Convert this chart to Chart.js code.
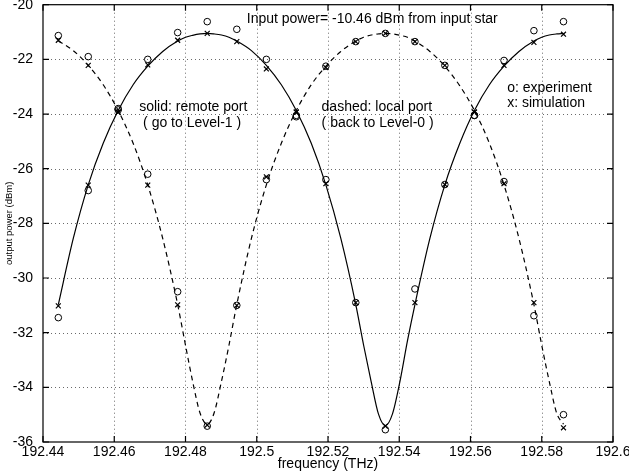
<!DOCTYPE html>
<html>
<head>
<meta charset="utf-8">
<script src="https://cdn.jsdelivr.net/npm/chart.js@4/dist/chart.umd.min.js"></script>
<style>
html,body{margin:0;padding:0;background:#fff;}
#c{display:block;}
</style>
</head>
<body>
<canvas id="c" width="629" height="474"></canvas>
<script>
// ---- axis ticks ----
const xTickValues = [192.44, 192.46, 192.48, 192.5, 192.52, 192.54, 192.56, 192.58, 192.6];
const xTickLabels = ['192.44', '192.46', '192.48', '192.5', '192.52', '192.54', '192.56', '192.58', '192.6'];
const yTickValues = [-36, -34, -32, -30, -28, -26, -24, -22, -20];
const yTickLabels = ['-36', '-34', '-32', '-30', '-28', '-26', '-24', '-22', '-20'];

// ---- measured points (THz) ----
const markerFreq = [192.4443, 192.4527, 192.4611, 192.4694, 192.4778, 192.4861, 192.4944, 192.5027, 192.5111,
                    192.5194, 192.5278, 192.5361, 192.5444, 192.5528, 192.5611, 192.5694, 192.5778, 192.5861];
// solid: remote port
const remoteSim = [-31.02, -26.60, -23.93, -22.20, -21.30, -21.05, -21.35, -22.35, -23.93,
                   -26.55, -30.90, -35.42, -30.90, -26.58, -23.93, -22.22, -21.38, -21.08];
const remoteExp = [-31.45, -26.80, -23.80, -22.00, -21.02, -20.62, -20.90, -22.00, -24.10,
                   -26.40, -30.90, -35.55, -30.40, -26.58, -24.05, -22.04, -20.95, -20.62];
// dashed: local port
const localSim = [-21.30, -22.22, -23.93, -26.60, -30.98, -35.38, -31.00, -26.30, -23.93,
                  -22.30, -21.35, -21.05, -21.35, -22.22, -23.93, -26.55, -30.90, -35.48];
const localExp = [-21.13, -21.90, -23.85, -26.20, -30.50, -35.42, -31.00, -26.40, -24.05,
                  -22.25, -21.35, -21.05, -21.35, -22.22, -24.05, -26.47, -31.38, -35.00];

// ---- simulation curves ----
const curveFreq = [192.4443, 192.4485, 192.4527, 192.4569, 192.4611, 192.4653, 192.4694, 192.4736, 192.4778,
                   192.4800, 192.4820, 192.4841, 192.4861, 192.4880, 192.4901, 192.4922, 192.4944, 192.4985,
                   192.5027, 192.5069, 192.5111, 192.5153, 192.5194, 192.5236, 192.5278, 192.5300, 192.5321,
                   192.5342, 192.5361, 192.5381, 192.5402, 192.5423, 192.5444, 192.5486, 192.5528, 192.5570,
                   192.5611, 192.5653, 192.5694, 192.5736, 192.5778, 192.5800, 192.5821, 192.5842, 192.5861];
const remoteCurve = [-30.97, -28.55, -26.59, -25.07, -23.87, -22.93, -22.25, -21.71, -21.33,
                     -21.19, -21.12, -21.07, -21.05, -21.07, -21.11, -21.19, -21.33, -21.68,
                     -22.22, -22.93, -23.87, -25.07, -26.59, -28.55, -30.97, -32.46, -33.78,
                     -34.99, -35.40, -34.97, -33.78, -32.30, -30.97, -28.55, -26.59, -25.07,
                     -23.87, -22.93, -22.25, -21.71, -21.33, -21.19, -21.11, -21.07, -21.05];
const localCurve = [-21.32, -21.68, -22.22, -22.93, -23.87, -25.07, -26.59, -28.55, -30.97,
                    -32.46, -33.78, -34.95, -35.35, -34.95, -33.78, -32.46, -30.97, -28.55,
                    -26.59, -25.07, -23.87, -22.93, -22.25, -21.71, -21.33, -21.19, -21.11,
                    -21.07, -21.05, -21.07, -21.12, -21.19, -21.33, -21.71, -22.25, -22.97,
                    -23.87, -25.07, -26.59, -28.55, -30.97, -32.46, -33.78, -34.95, -35.35];

// ---- text notes inside the plot (data coordinates) ----
const noteTexts = ['Input power= -10.46 dBm from input star', 'solid: remote port', '( go to Level-1 )',
                   'dashed: local port', '( back to Level-0 )', 'o: experiment', 'x: simulation'];
const noteX = [192.4972, 192.4670, 192.4681, 192.5182, 192.5182, 192.5703, 192.5703];
const noteY = [-20.52, -23.75, -24.33, -23.75, -24.33, -23.06, -23.60];

const FONT = '"Liberation Sans", Arial, Helvetica, sans-serif';
const pts = (xs, ys) => xs.map((v, i) => ({x: v, y: ys[i]}));

const framePlugin = {
  id: 'frame',
  beforeDatasetsDraw(chart) {
    const {ctx, chartArea: a, scales: {x, y}} = chart;
    ctx.save();
    ctx.strokeStyle = '#6a6a6a';
    ctx.lineWidth = 1;
    ctx.setLineDash([1, 3]);
    ctx.beginPath();
    xTickValues.slice(1, -1).forEach(v => {
      const p = Math.round(x.getPixelForValue(v)) + 0.5;
      ctx.moveTo(p, a.top); ctx.lineTo(p, a.bottom);
    });
    yTickValues.slice(1, -1).forEach(v => {
      const p = Math.round(y.getPixelForValue(v)) + 0.5;
      ctx.moveTo(a.left, p); ctx.lineTo(a.right, p);
    });
    ctx.stroke();
    ctx.restore();
  },
  afterDraw(chart) {
    const {ctx, chartArea: a, scales: {x, y}} = chart;
    ctx.save();
    ctx.strokeStyle = '#000';
    ctx.lineWidth = 1.2;
    ctx.strokeRect(a.left, a.top, a.right - a.left, a.bottom - a.top);
    ctx.beginPath();
    xTickValues.forEach(v => {
      const p = x.getPixelForValue(v);
      ctx.moveTo(p, a.bottom); ctx.lineTo(p, a.bottom - 6);
      ctx.moveTo(p, a.top); ctx.lineTo(p, a.top + 6);
    });
    yTickValues.forEach(v => {
      const p = y.getPixelForValue(v);
      ctx.moveTo(a.left, p); ctx.lineTo(a.left + 6, p);
      ctx.moveTo(a.right, p); ctx.lineTo(a.right - 6, p);
    });
    ctx.stroke();
    ctx.fillStyle = '#000';
    ctx.font = '14px ' + FONT;
    ctx.textBaseline = 'middle';
    ctx.textAlign = 'left';
    noteTexts.forEach((t, i) => ctx.fillText(t, x.getPixelForValue(noteX[i]), y.getPixelForValue(noteY[i])));
    ctx.restore();
  }
};

new Chart(document.getElementById('c'), {
  type: 'scatter',
  data: {
    datasets: [
      {label: 'remote curve', data: pts(curveFreq, remoteCurve), showLine: true, pointRadius: 0,
       borderColor: '#000', borderWidth: 1.2, cubicInterpolationMode: 'monotone', fill: false},
      {label: 'local curve', data: pts(curveFreq, localCurve), showLine: true, pointRadius: 0,
       borderColor: '#000', borderWidth: 1.2, borderDash: [5, 4], cubicInterpolationMode: 'monotone', fill: false},
      {label: 'remote sim', data: pts(markerFreq, remoteSim), showLine: false, pointStyle: 'crossRot',
       pointRadius: 3.5, borderColor: '#000', borderWidth: 1.2, backgroundColor: '#000'},
      {label: 'remote exp', data: pts(markerFreq, remoteExp), showLine: false, pointStyle: 'circle',
       pointRadius: 3.3, borderColor: '#000', borderWidth: 1, backgroundColor: 'rgba(0,0,0,0)'},
      {label: 'local sim', data: pts(markerFreq, localSim), showLine: false, pointStyle: 'crossRot',
       pointRadius: 3.5, borderColor: '#000', borderWidth: 1.2, backgroundColor: '#000'},
      {label: 'local exp', data: pts(markerFreq, localExp), showLine: false, pointStyle: 'circle',
       pointRadius: 3.3, borderColor: '#000', borderWidth: 1, backgroundColor: 'rgba(0,0,0,0)'}
    ]
  },
  options: {
    responsive: false,
    animation: false,
    devicePixelRatio: 1,
    layout: {padding: {left: 0, right: 16, top: 2, bottom: 0}},
    plugins: {legend: {display: false}, tooltip: {enabled: false}},
    elements: {point: {hoverRadius: 0}},
    scales: {
      x: {
        type: 'linear', min: 192.44, max: 192.6,
        afterBuildTicks: s => { s.ticks = xTickValues.map(v => ({value: v})); },
        afterFit: s => { s.height = 32; s.paddingLeft = 0; s.paddingRight = 0; },
        ticks: {callback: (v, i) => xTickLabels[i], color: '#000', padding: 2, maxRotation: 0,
                font: {family: FONT, size: 14}},
        grid: {display: false, drawTicks: false},
        border: {display: false},
        title: {display: true, text: 'frequency (THz)', color: '#000', padding: {top: 0, bottom: 1},
                font: {family: FONT, size: 14}}
      },
      y: {
        type: 'linear', min: -36, max: -20,
        afterBuildTicks: s => { s.ticks = yTickValues.map(v => ({value: v})); },
        afterFit: s => { s.width = 43; s.paddingTop = 0; s.paddingBottom = 0; },
        ticks: {callback: (v, i) => yTickLabels[i], color: '#000', padding: 10,
                font: {family: FONT, size: 14}},
        grid: {display: false, drawTicks: false},
        border: {display: false},
        title: {display: true, text: 'output power (dBm)', color: '#000', padding: {top: 4, bottom: 0},
                font: {family: FONT, size: 9.5}}
      }
    }
  },
  plugins: [framePlugin]
});
</script>
</body>
</html>
